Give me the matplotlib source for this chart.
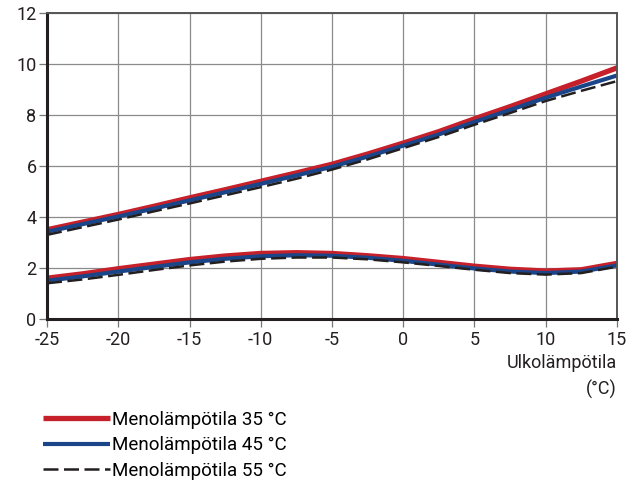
import matplotlib
matplotlib.use("Agg")
import matplotlib.pyplot as plt

plt.rcParams['font.family'] = ['Roboto', 'DejaVu Sans']

# Ulkolämpötila (°C)
lampotila = [-25, -22.5, -20, -17.5, -15, -12.5, -10, -7.5, -5, -2.5, 0, 2.5, 5, 7.5, 10, 12.5, 15]

# ylemmät käyrät
ylä_35 = [3.5, 3.8, 4.1, 4.42, 4.75, 5.07, 5.4, 5.73, 6.07, 6.47, 6.9, 7.35, 7.85, 8.33, 8.83, 9.33, 9.85]
ylä_45 = [3.42, 3.72, 4.02, 4.33, 4.65, 4.97, 5.3, 5.63, 5.97, 6.37, 6.8, 7.24, 7.73, 8.2, 8.68, 9.12, 9.55]
ylä_55 = [3.3, 3.6, 3.9, 4.22, 4.53, 4.85, 5.17, 5.5, 5.86, 6.26, 6.7, 7.14, 7.62, 8.08, 8.55, 8.95, 9.33]

# alemmat käyrät
ala_35 = [1.6, 1.77, 1.97, 2.15, 2.33, 2.47, 2.57, 2.6, 2.57, 2.48, 2.37, 2.22, 2.07, 1.95, 1.88, 1.93, 2.18]
ala_45 = [1.5, 1.67, 1.86, 2.04, 2.22, 2.36, 2.46, 2.5, 2.48, 2.4, 2.28, 2.13, 1.98, 1.86, 1.8, 1.86, 2.1]
ala_55 = [1.4, 1.55, 1.73, 1.92, 2.1, 2.25, 2.36, 2.41, 2.41, 2.34, 2.22, 2.08, 1.93, 1.8, 1.74, 1.8, 2.05]

nimet = ['Menolämpötila 35 °C', 'Menolämpötila 45 °C', 'Menolämpötila 55 °C']
x_tikit = [-25, -20, -15, -10, -5, 0, 5, 10, 15]
y_tikit = [0, 2, 4, 6, 8, 10, 12]

punainen = '#c6202b'
sininen = '#1b4589'
musta = '#231f20'

fig = plt.figure(figsize=(6.38, 4.84), dpi=100)
ax = fig.add_axes([0.0737, 0.341, 0.8933, 0.632])

# käyrät: punainen alimmaisena, musta katkoviiva päällimmäisenä
l1, = ax.plot(lampotila, ylä_35, color=punainen, lw=3.8, solid_capstyle='butt', label=nimet[0])
ax.plot(lampotila, ala_35, color=punainen, lw=3.8, solid_capstyle='butt')
l2, = ax.plot(lampotila, ylä_45, color=sininen, lw=3.0, solid_capstyle='butt', label=nimet[1])
ax.plot(lampotila, ala_45, color=sininen, lw=3.0, solid_capstyle='butt')
l3, = ax.plot(lampotila, ylä_55, color=musta, lw=1.8, ls=(0, (6, 2.2)), label=nimet[2])
ax.plot(lampotila, ala_55, color=musta, lw=1.8, ls=(0, (6, 2.2)))

ax.set_xlim(-25, 15)
ax.set_ylim(0, 12)
ax.set_xticks(x_tikit)
ax.set_xticklabels([str(v) for v in x_tikit])
ax.set_yticks(y_tikit)
ax.grid(True, color='#8a8a8a', lw=0.9)
ax.set_axisbelow(True)
ax.tick_params(length=5.5, width=0.9, color='#777777', labelsize=13, labelcolor='#231f20')
ax.tick_params(axis='x', pad=3)
ax.tick_params(axis='y', pad=2)

for s in ['left', 'bottom']:
    ax.spines[s].set_linewidth(2.2)
    ax.spines[s].set_color('#231f20')
for s in ['top', 'right']:
    ax.spines[s].set_linewidth(1.4)
    ax.spines[s].set_color('#555555')

fig.text(0.967, 0.222, 'Ulkolämpötila\n(°C)', ha='right', va='center',
         fontsize=13, color='#231f20', linespacing=1.55)

fig.legend(handles=[l1, l2, l3], labels=nimet, loc='upper left',
           bbox_to_anchor=(0.067, 0.151), frameon=False, fontsize=13.5,
           handlelength=3.6, handletextpad=0.12, labelspacing=0.4,
           borderaxespad=0, borderpad=0)

fig.savefig('out.png', dpi=100)
